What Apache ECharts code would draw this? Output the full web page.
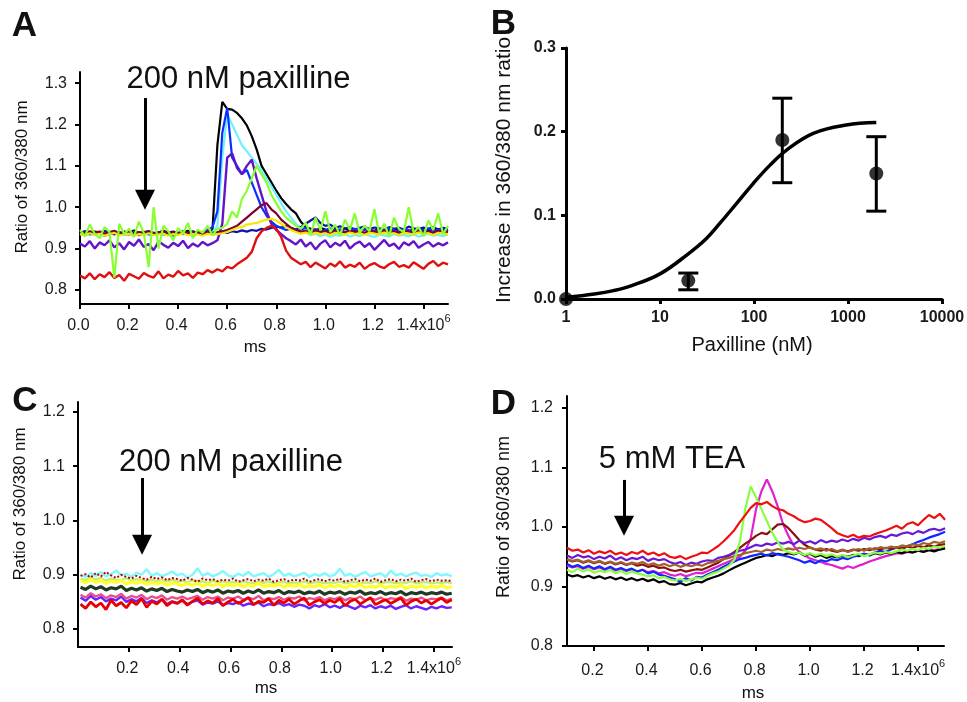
<!DOCTYPE html>
<html><head><meta charset="utf-8">
<script src="https://cdn.jsdelivr.net/npm/echarts@6/dist/echarts.min.js"></script>
<style>html,body{margin:0;padding:0;background:#fff}#c{width:967px;height:702px}</style>
</head><body><div id="c"></div><script>
// ---------- Panel A (200 nM paxilline, responsive cells) ----------
const timeA = [0,0.02,0.04,0.06,0.08,0.1,0.12,0.14,0.16,0.18,
0.2,0.22,0.24,0.26,0.28,0.3,0.32,0.34,0.36,0.38,
0.4,0.42,0.44,0.46,0.48,0.5,0.52,0.54,0.56,0.58,
0.6,0.62,0.64,0.66,0.68,0.7,0.72,0.74,0.76,0.78,
0.8,0.82,0.84,0.86,0.88,0.9,0.92,0.94,0.96,0.98,
1,1.02,1.04,1.06,1.08,1.1,1.12,1.14,1.16,1.18,
1.2,1.22,1.24,1.26,1.28,1.3,1.32,1.34,1.36,1.38,
1.4,1.42,1.44,1.46,1.48,1.5];
const aBlack = [0.938,0.942,0.936,0.941,0.939,0.943,0.937,0.940,0.935,0.941,
0.938,0.944,0.936,0.940,0.942,0.937,0.939,0.943,0.938,0.941,
0.936,0.940,0.943,0.938,0.941,0.939,0.942,0.945,1.150,1.255,
1.238,1.236,1.228,1.215,1.198,1.172,1.140,1.100,1.080,1.060,
1.040,1.022,1.008,0.995,0.985,0.965,0.952,0.948,0.944,0.950,
0.946,0.943,0.947,0.945,0.949,0.944,0.946,0.942,0.947,0.945,
0.943,0.948,0.944,0.946,0.943,0.947,0.945,0.942,0.946,0.944,
0.948,0.943,0.945,0.947,0.944,0.946];
const aCyan = [0.934,0.938,0.932,0.936,0.940,0.933,0.937,0.935,0.939,0.932,
0.936,0.938,0.934,0.937,0.933,0.939,0.935,0.936,0.932,0.938,
0.935,0.937,0.934,0.939,0.936,0.933,0.938,0.940,0.955,1.120,
1.225,1.200,1.175,1.150,1.135,1.120,1.105,1.090,1.070,1.050,
1.030,1.010,0.990,0.975,0.960,0.950,0.940,0.932,0.936,0.930,
0.934,0.928,0.933,0.931,0.935,0.929,0.933,0.930,0.936,0.931,
0.928,0.934,0.932,0.929,0.935,0.931,0.933,0.930,0.934,0.929,
0.932,0.936,0.931,0.933,0.930,0.934];
const aNavy = [0.937,0.941,0.935,0.939,0.936,0.942,0.938,0.934,0.940,0.937,
0.941,0.936,0.939,0.935,0.940,0.938,0.936,0.941,0.937,0.939,
0.935,0.940,0.937,0.942,0.938,0.936,0.940,0.937,0.939,0.941,
0.938,0.942,0.940,0.944,0.941,0.945,0.943,0.948,0.946,0.950,
0.953,0.951,0.955,0.950,0.946,0.952,0.960,0.968,0.975,0.962,
0.955,0.958,0.950,0.954,0.948,0.952,0.946,0.950,0.953,0.947,
0.951,0.949,0.945,0.952,0.948,0.950,0.946,0.953,0.949,0.947,
0.951,0.948,0.952,0.946,0.950,0.948];
const aBlue = [0.936,0.932,0.938,0.934,0.937,0.931,0.935,0.939,0.933,0.936,
0.934,0.938,0.932,0.937,0.935,0.933,0.938,0.934,0.936,0.931,
0.937,0.935,0.939,0.933,0.936,0.940,0.945,0.952,0.990,1.180,
1.240,1.120,1.100,1.080,1.090,1.060,1.030,1.000,0.980,0.965,
0.955,0.950,0.945,0.948,0.942,0.946,0.950,0.944,0.947,0.941,
0.945,0.949,0.943,0.946,0.940,0.944,0.948,0.942,0.945,0.947,
0.941,0.946,0.943,0.949,0.944,0.942,0.947,0.945,0.941,0.946,
0.944,0.948,0.943,0.945,0.947,0.942];
const aPurple = [0.912,0.905,0.918,0.900,0.915,0.908,0.920,0.903,0.913,0.898,
0.916,0.907,0.922,0.904,0.911,0.896,0.917,0.909,0.902,0.914,
0.906,0.919,0.901,0.912,0.905,0.916,0.908,0.913,0.920,0.960,
1.120,1.130,1.095,1.080,1.100,1.115,1.070,1.030,0.990,0.960,
0.945,0.935,0.925,0.918,0.910,0.922,0.905,0.915,0.898,0.912,
0.920,0.903,0.914,0.907,0.919,0.900,0.911,0.917,0.904,0.913,
0.897,0.909,0.921,0.906,0.912,0.899,0.915,0.908,0.918,0.902,
0.910,0.916,0.905,0.913,0.908,0.915];
const aMaroon = [0.940,0.937,0.942,0.938,0.941,0.936,0.940,0.943,0.937,0.939,
0.941,0.936,0.940,0.938,0.942,0.937,0.939,0.941,0.936,0.940,
0.938,0.942,0.937,0.940,0.939,0.936,0.941,0.938,0.940,0.942,
0.945,0.950,0.955,0.965,0.975,0.985,0.995,1.005,1.010,0.995,
0.985,0.970,0.960,0.950,0.945,0.941,0.943,0.939,0.944,0.940,
0.942,0.938,0.943,0.941,0.939,0.944,0.940,0.942,0.938,0.943,
0.941,0.939,0.944,0.940,0.942,0.938,0.943,0.941,0.939,0.944,
0.940,0.942,0.938,0.943,0.941,0.940];
const aYellow = [0.935,0.932,0.937,0.933,0.936,0.931,0.935,0.938,0.932,0.934,
0.936,0.931,0.935,0.933,0.937,0.932,0.934,0.936,0.931,0.935,
0.933,0.937,0.932,0.935,0.934,0.931,0.936,0.933,0.935,0.937,
0.940,0.945,0.950,0.952,0.958,0.960,0.962,0.966,0.970,0.972,
0.968,0.960,0.952,0.945,0.940,0.936,0.939,0.934,0.938,0.935,
0.937,0.933,0.938,0.936,0.934,0.939,0.935,0.937,0.933,0.938,
0.936,0.934,0.939,0.935,0.937,0.933,0.938,0.936,0.934,0.939,
0.935,0.937,0.933,0.938,0.936,0.935];
const aRed = [0.835,0.828,0.840,0.826,0.838,0.831,0.843,0.829,0.836,0.822,
0.839,0.833,0.827,0.841,0.834,0.830,0.845,0.828,0.837,0.832,
0.846,0.835,0.840,0.829,0.842,0.838,0.848,0.842,0.850,0.845,
0.856,0.852,0.862,0.870,0.878,0.892,0.925,0.942,0.950,0.955,
0.948,0.928,0.895,0.878,0.870,0.862,0.868,0.855,0.866,0.859,
0.852,0.864,0.857,0.869,0.854,0.861,0.856,0.866,0.851,0.860,
0.865,0.857,0.853,0.862,0.868,0.856,0.860,0.854,0.867,0.859,
0.851,0.863,0.870,0.858,0.866,0.862];
const aGreen = [0.945,0.930,0.958,0.936,0.925,0.952,0.940,0.830,0.960,0.935,
0.948,0.928,0.965,0.938,0.855,1.000,0.900,0.955,0.942,0.920,
0.950,0.936,0.962,0.925,0.946,0.938,0.955,0.932,0.948,0.950,
0.960,0.990,0.975,1.020,1.040,1.070,1.100,1.080,1.060,1.030,
1.010,0.990,0.975,0.965,0.955,0.948,0.962,0.935,0.975,0.944,
0.990,0.940,0.958,0.932,0.970,0.945,0.985,0.938,0.955,0.942,
0.995,0.936,0.960,0.930,0.975,0.947,0.940,1.000,0.938,0.952,
0.930,0.968,0.945,0.985,0.935,0.955];

// ---------- Panel B (dose response) ----------
const doseB = [1, 20, 200, 2000];
const meanB = [0.0, 0.022, 0.19, 0.15];
const errLowB = [0.0, 0.011, 0.139, 0.105];
const errHighB = [0.0, 0.031, 0.240, 0.194];
const fitX = [1, 2, 3.2, 5, 10, 20, 31, 43, 65, 98, 148, 222, 427, 960, 2000];
const fitY = [0.002, 0.006, 0.010, 0.016, 0.030, 0.054, 0.072, 0.090, 0.114, 0.138, 0.160, 0.178, 0.198, 0.208, 0.211];

// ---------- Panel C (200 nM paxilline, non-responsive) ----------
const timeC = [0.01,0.03,0.05,0.07,0.09,0.11,0.13,0.15,0.17,0.19,
0.21,0.23,0.25,0.27,0.29,0.31,0.33,0.35,0.37,0.39,
0.41,0.43,0.45,0.47,0.49,0.51,0.53,0.55,0.57,0.59,
0.61,0.63,0.65,0.67,0.69,0.71,0.73,0.75,0.77,0.79,
0.81,0.83,0.85,0.87,0.89,0.91,0.93,0.95,0.97,0.99,
1.01,1.03,1.05,1.07,1.09,1.11,1.13,1.15,1.17,1.19,
1.21,1.23,1.25,1.27,1.29,1.31,1.33,1.35,1.37,1.39,
1.41,1.43,1.45,1.47];
const cCyan = [0.900,0.896,0.903,0.898,0.905,0.897,0.901,0.908,0.899,0.902,
0.896,0.904,0.900,0.910,0.898,0.903,0.897,0.901,0.906,0.899,
0.902,0.895,0.900,0.912,0.898,0.903,0.897,0.901,0.907,0.899,
0.896,0.902,0.898,0.905,0.897,0.900,0.903,0.896,0.901,0.909,
0.898,0.902,0.897,0.900,0.904,0.896,0.901,0.898,0.903,0.897,
0.900,0.911,0.898,0.902,0.896,0.901,0.905,0.897,0.900,0.903,
0.896,0.908,0.899,0.902,0.897,0.901,0.904,0.898,0.900,0.896,
0.903,0.899,0.901,0.897];
const cRedDot = [0.898,0.901,0.895,0.903,0.897,0.905,0.899,0.894,0.900,0.896,
0.893,0.898,0.894,0.891,0.896,0.892,0.895,0.890,0.894,0.892,
0.889,0.894,0.891,0.887,0.893,0.890,0.892,0.888,0.891,0.889,
0.893,0.887,0.890,0.892,0.888,0.891,0.889,0.893,0.887,0.890,
0.892,0.888,0.891,0.889,0.893,0.887,0.890,0.892,0.888,0.891,
0.889,0.893,0.887,0.890,0.892,0.888,0.891,0.889,0.893,0.887,
0.890,0.892,0.888,0.891,0.889,0.893,0.887,0.890,0.892,0.888,
0.891,0.889,0.890,0.888];
const cLime = [0.893,0.890,0.895,0.891,0.894,0.889,0.893,0.891,0.890,0.894,
0.889,0.892,0.890,0.888,0.891,0.887,0.890,0.888,0.891,0.887,
0.889,0.886,0.890,0.887,0.888,0.885,0.889,0.886,0.888,0.885,
0.887,0.884,0.888,0.886,0.884,0.887,0.885,0.888,0.884,0.886,
0.887,0.884,0.886,0.885,0.888,0.884,0.886,0.887,0.884,0.886,
0.885,0.888,0.884,0.886,0.887,0.884,0.886,0.885,0.888,0.884,
0.886,0.887,0.884,0.886,0.885,0.888,0.884,0.886,0.887,0.884,
0.886,0.885,0.887,0.884];
const cYellow = [0.889,0.885,0.891,0.886,0.890,0.884,0.888,0.886,0.890,0.883,
0.887,0.884,0.888,0.882,0.886,0.883,0.887,0.881,0.885,0.883,
0.880,0.884,0.881,0.885,0.879,0.883,0.880,0.884,0.878,0.882,
0.880,0.883,0.878,0.882,0.879,0.884,0.878,0.881,0.879,0.883,
0.877,0.881,0.879,0.882,0.877,0.880,0.878,0.882,0.876,0.880,
0.878,0.881,0.876,0.880,0.878,0.882,0.876,0.879,0.877,0.881,
0.876,0.879,0.877,0.881,0.875,0.879,0.877,0.880,0.876,0.879,
0.877,0.880,0.876,0.878];
const cDark = [0.877,0.873,0.879,0.874,0.878,0.872,0.876,0.874,0.879,0.871,
0.875,0.872,0.876,0.870,0.874,0.871,0.875,0.869,0.873,0.870,
0.868,0.872,0.869,0.873,0.867,0.871,0.868,0.872,0.866,0.870,
0.868,0.871,0.866,0.870,0.867,0.872,0.866,0.869,0.867,0.871,
0.865,0.869,0.867,0.870,0.865,0.868,0.866,0.870,0.864,0.868,
0.866,0.869,0.864,0.868,0.866,0.870,0.864,0.867,0.865,0.869,
0.864,0.867,0.865,0.869,0.863,0.867,0.865,0.868,0.864,0.867,
0.865,0.868,0.864,0.866];
const cPink = [0.863,0.858,0.866,0.860,0.864,0.857,0.862,0.859,0.865,0.856,
0.861,0.858,0.863,0.855,0.860,0.857,0.862,0.854,0.859,0.856,
0.860,0.855,0.858,0.861,0.854,0.859,0.856,0.860,0.853,0.858,
0.856,0.860,0.854,0.858,0.855,0.861,0.853,0.857,0.855,0.859,
0.854,0.858,0.856,0.860,0.853,0.857,0.855,0.859,0.853,0.857,
0.855,0.859,0.853,0.857,0.855,0.860,0.853,0.856,0.854,0.858,
0.853,0.857,0.855,0.859,0.852,0.856,0.854,0.858,0.853,0.856,
0.855,0.858,0.853,0.856];
const cViolet = [0.858,0.852,0.861,0.854,0.859,0.851,0.856,0.853,0.860,0.850,
0.855,0.851,0.857,0.848,0.853,0.849,0.855,0.846,0.851,0.848,
0.852,0.846,0.850,0.853,0.845,0.849,0.847,0.851,0.844,0.848,
0.846,0.850,0.843,0.847,0.845,0.849,0.842,0.846,0.844,0.848,
0.843,0.846,0.841,0.845,0.843,0.838,0.844,0.841,0.846,0.840,
0.843,0.839,0.845,0.841,0.837,0.843,0.840,0.844,0.838,0.842,
0.839,0.843,0.837,0.841,0.844,0.838,0.842,0.839,0.836,0.841,
0.838,0.842,0.839,0.840];
const cRed = [0.846,0.838,0.850,0.841,0.848,0.836,0.853,0.843,0.849,0.839,
0.852,0.845,0.856,0.840,0.851,0.846,0.855,0.843,0.850,0.847,
0.854,0.844,0.851,0.857,0.846,0.852,0.848,0.856,0.843,0.850,
0.855,0.847,0.852,0.858,0.845,0.851,0.849,0.856,0.844,0.853,
0.848,0.855,0.846,0.852,0.857,0.844,0.850,0.854,0.847,0.853,
0.849,0.856,0.843,0.851,0.855,0.846,0.852,0.858,0.845,0.850,
0.854,0.847,0.852,0.857,0.844,0.851,0.855,0.848,0.853,0.846,
0.852,0.857,0.849,0.854];

// ---------- Panel D (5 mM TEA) ----------
const timeD = [0.1,0.12,0.14,0.16,0.18,0.2,0.22,0.24,0.26,0.28,
0.3,0.32,0.34,0.36,0.38,0.4,0.42,0.44,0.46,0.48,
0.5,0.52,0.54,0.56,0.58,0.6,0.62,0.64,0.66,0.68,
0.7,0.72,0.74,0.76,0.78,0.8,0.82,0.84,0.86,0.88,
0.9,0.92,0.94,0.96,0.98,1,1.02,1.04,1.06,1.08,
1.1,1.12,1.14,1.16,1.18,1.2,1.22,1.24,1.26,1.28,
1.3,1.32,1.34,1.36,1.38,1.4,1.42,1.44,1.46,1.48,
1.5];
const dRed = [0.965,0.960,0.962,0.957,0.961,0.955,0.959,0.956,0.960,0.954,
0.957,0.953,0.958,0.955,0.960,0.954,0.957,0.952,0.956,0.950,
0.948,0.951,0.946,0.950,0.953,0.957,0.956,0.962,0.968,0.976,
0.985,0.995,1.008,1.020,1.032,1.040,1.038,1.042,1.035,1.030,
1.028,1.022,1.018,1.012,1.008,1.010,1.014,1.012,1.005,0.998,
0.990,0.986,0.983,0.987,0.982,0.985,0.984,0.988,0.991,0.994,
0.998,1.002,0.997,1.005,1.008,1.003,1.012,1.020,1.015,1.022,
1.012];
const dPurple = [0.952,0.948,0.953,0.949,0.951,0.946,0.950,0.947,0.952,0.945,
0.949,0.944,0.948,0.946,0.950,0.943,0.947,0.944,0.946,0.941,
0.938,0.941,0.936,0.940,0.938,0.942,0.944,0.943,0.948,0.950,
0.953,0.956,0.960,0.962,0.966,0.970,0.968,0.972,0.970,0.974,
0.972,0.975,0.971,0.977,0.973,0.976,0.972,0.978,0.974,0.977,
0.975,0.979,0.976,0.980,0.977,0.982,0.979,0.983,0.985,0.982,
0.987,0.985,0.989,0.991,0.988,0.993,0.990,0.995,0.997,0.994,
0.998];
const dBlue = [0.938,0.933,0.936,0.931,0.935,0.930,0.934,0.929,0.933,0.928,
0.931,0.927,0.930,0.925,0.928,0.922,0.925,0.920,0.918,0.915,
0.912,0.908,0.914,0.910,0.916,0.915,0.920,0.924,0.928,0.933,
0.938,0.942,0.946,0.948,0.951,0.953,0.955,0.952,0.956,0.954,
0.952,0.950,0.947,0.944,0.940,0.943,0.939,0.944,0.942,0.946,
0.944,0.948,0.946,0.950,0.952,0.955,0.953,0.957,0.960,0.958,
0.962,0.965,0.963,0.968,0.971,0.975,0.978,0.982,0.985,0.988,
0.992];
const dBrown = [0.946,0.943,0.945,0.941,0.944,0.940,0.943,0.939,0.942,0.938,
0.941,0.937,0.940,0.938,0.941,0.936,0.939,0.935,0.938,0.934,
0.937,0.933,0.936,0.934,0.937,0.935,0.939,0.941,0.943,0.946,
0.948,0.951,0.953,0.956,0.958,0.960,0.958,0.962,0.960,0.963,
0.961,0.964,0.962,0.965,0.963,0.966,0.962,0.964,0.960,0.963,
0.959,0.962,0.958,0.961,0.963,0.960,0.964,0.962,0.966,0.964,
0.967,0.965,0.969,0.967,0.971,0.969,0.973,0.971,0.975,0.973,
0.976];
const dGreen = [0.928,0.924,0.930,0.925,0.929,0.923,0.927,0.924,0.928,0.922,
0.926,0.921,0.925,0.922,0.920,0.917,0.919,0.914,0.916,0.912,
0.910,0.913,0.909,0.912,0.915,0.913,0.918,0.922,0.925,0.930,
0.935,0.945,0.975,1.030,1.068,1.050,1.030,1.010,0.990,0.975,
0.962,0.958,0.955,0.957,0.953,0.956,0.952,0.955,0.951,0.954,
0.950,0.953,0.949,0.952,0.955,0.951,0.954,0.957,0.955,0.958,
0.956,0.959,0.962,0.960,0.963,0.961,0.965,0.963,0.967,0.965,
0.968];
const dBlack = [0.920,0.917,0.919,0.915,0.918,0.914,0.917,0.913,0.916,0.912,
0.915,0.911,0.914,0.910,0.913,0.909,0.912,0.907,0.909,0.904,
0.903,0.906,0.902,0.905,0.908,0.907,0.912,0.915,0.918,0.922,
0.927,0.932,0.936,0.940,0.944,0.948,0.950,0.953,0.951,0.955,
0.953,0.956,0.954,0.957,0.952,0.955,0.950,0.953,0.948,0.951,
0.949,0.952,0.950,0.953,0.951,0.955,0.952,0.956,0.954,0.957,
0.955,0.958,0.956,0.959,0.957,0.960,0.958,0.961,0.959,0.962,
0.964];
const dMagenta = [0.935,0.932,0.934,0.930,0.933,0.929,0.932,0.928,0.931,0.927,
0.930,0.926,0.929,0.925,0.928,0.924,0.926,0.922,0.924,0.920,
0.918,0.921,0.917,0.920,0.923,0.922,0.926,0.930,0.934,0.938,
0.942,0.946,0.950,0.960,0.980,1.030,1.060,1.080,1.060,1.035,
1.005,0.985,0.968,0.958,0.952,0.947,0.944,0.941,0.938,0.936,
0.933,0.930,0.934,0.931,0.935,0.938,0.942,0.945,0.948,0.951,
0.953,0.956,0.955,0.958,0.957,0.960,0.959,0.962,0.961,0.963,
0.965];
const dDarkRed = [0.945,0.942,0.944,0.940,0.943,0.939,0.942,0.938,0.941,0.937,
0.940,0.936,0.939,0.935,0.937,0.933,0.935,0.931,0.932,0.928,
0.926,0.928,0.925,0.927,0.929,0.928,0.932,0.936,0.940,0.946,
0.952,0.958,0.965,0.972,0.978,0.985,0.990,0.988,0.996,1.004,
1.005,0.998,0.988,0.978,0.970,0.965,0.962,0.960,0.963,0.960,
0.958,0.961,0.959,0.962,0.960,0.963,0.961,0.964,0.962,0.965,
0.963,0.966,0.964,0.967,0.965,0.968,0.966,0.969,0.967,0.970,
0.971];

// ---------- ticks & annotations ----------
const ticksTimeA = [0,0.2,0.4,0.6,0.8,1.0,1.2,1.4];
const ticksTime = [0.2,0.4,0.6,0.8,1.0,1.2,1.4];
const ticksRatioA = [0.8,0.9,1.0,1.1,1.2,1.3];
const ticksRatio = [0.8,0.9,1.0,1.1,1.2];
const arrowA = {x:0.265, y0:1.264, y1:1.018};
const arrowC = {x:0.252, y0:1.078, y1:0.955};
const arrowD = {x:0.311, y0:1.079, y1:1.002};

const FONT = '"Liberation Sans", Arial, Helvetica, sans-serif';
function zip(t, v){ return t.map((x,i)=>[x, v[i]]); }
function timeLabel(v){
  const r = Math.round(v*10)/10;
  if (Math.abs(r-1.4) < 1e-6) return '{n|1.4x10}{sup|6}';
  return '{n|' + r.toFixed(1) + '}{sup| }';
}
const timeRich = {
  n:{fontSize:16, fontFamily:FONT, color:'#1a1a1a', lineHeight:18, verticalAlign:'bottom'},
  sup:{fontSize:11, fontFamily:FONT, color:'#1a1a1a', lineHeight:12, verticalAlign:'bottom', padding:[0,0,10,0]}
};

function timeAxis(gi, min, max, vals, margin){
  return {type:'value', gridIndex:gi, min:min, max:max,
    axisLine:{show:true, onZero:false, lineStyle:{color:'#000', width:2}},
    axisTick:{show:true, customValues:vals, length:5, lineStyle:{color:'#000', width:2}},
    axisLabel:{customValues:vals, formatter:timeLabel, margin:margin, fontFamily:FONT, fontSize:16, color:'#1a1a1a', rich:timeRich},
    splitLine:{show:false}};
}
function ratioAxis(gi, min, max, vals, margin){
  return {type:'value', gridIndex:gi, min:min, max:max,
    axisLine:{show:true, onZero:false, lineStyle:{color:'#000', width:2}},
    axisTick:{show:true, customValues:vals, length:5, lineStyle:{color:'#000', width:2}},
    axisLabel:{customValues:vals, formatter:(v)=>v.toFixed(1), margin:margin, fontFamily:FONT, fontSize:16, color:'#1a1a1a'},
    splitLine:{show:false}};
}
function trace(gi, t, v, color, w, extra){
  const s = {type:'line', xAxisIndex:gi, yAxisIndex:gi, data:zip(t, v), showSymbol:false, symbol:'none',
    silent:true, animation:false, lineStyle:{color:color, width:w||1.8}, itemStyle:{color:color}, z:2};
  return Object.assign(s, extra||{});
}
function arrowMark(a){
  return {silent:true, animation:false, symbol:['none','triangle'], symbolSize:[20,20],
    label:{show:false}, lineStyle:{color:'#000', width:3, type:'solid'},
    emphasis:{disabled:true},
    data:[[{coord:[a.x, a.y0]}, {coord:[a.x, a.y1]}]]};
}

const series = [];
// A
series.push(trace(0, timeA, aBlack, '#000000', 2.2, {markLine: arrowMark(arrowA)}));
series.push(trace(0, timeA, aCyan, '#6ff0ff', 2.2));
series.push(trace(0, timeA, aNavy, '#0a14a8', 2.2));
series.push(trace(0, timeA, aBlue, '#0a30ff', 2.2));
series.push(trace(0, timeA, aPurple, '#6414c8', 2.4));
series.push(trace(0, timeA, aMaroon, '#800030', 2.2));
series.push(trace(0, timeA, aYellow, '#f5e800', 2.2));
series.push(trace(0, timeA, aRed, '#e01010', 2.4));
series.push(trace(0, timeA, aGreen, '#88ff30', 2.2));
// B
series.push({type:'line', xAxisIndex:1, yAxisIndex:1, data:zip(fitX, fitY), smooth:0.4, showSymbol:false, symbol:'none',
  silent:true, animation:false, lineStyle:{color:'#000', width:3.5}});
series.push({type:'custom', xAxisIndex:1, yAxisIndex:1, silent:true, animation:false,
  data: doseB.map((d,i)=>[d, errLowB[i], errHighB[i]]).filter((r)=>r[2] > r[1]),
  encode:{x:0, y:[1,2]},
  renderItem: function(params, api){
    const x = api.value(0), lo = api.value(1), hi = api.value(2);
    const pLo = api.coord([x, lo]), pHi = api.coord([x, hi]);
    const hw = 10, st = {stroke:'#000', lineWidth:3};
    return {type:'group', children:[
      {type:'line', shape:{x1:pLo[0], y1:pLo[1], x2:pHi[0], y2:pHi[1]}, style:st},
      {type:'line', shape:{x1:pLo[0]-hw, y1:pLo[1], x2:pLo[0]+hw, y2:pLo[1]}, style:st},
      {type:'line', shape:{x1:pHi[0]-hw, y1:pHi[1], x2:pHi[0]+hw, y2:pHi[1]}, style:st}]};
  }});
series.push({type:'scatter', xAxisIndex:1, yAxisIndex:1, data:zip(doseB, meanB), symbol:'circle', symbolSize:14,
  silent:true, animation:false, itemStyle:{color:'#000'}, z:5});
// C
series.push(trace(2, timeC, cCyan, '#80f8ff', 2.4, {markLine: arrowMark(arrowC)}));
series.push(trace(2, timeC, cLime, '#b8f078', 2.4));
series.push(trace(2, timeC, cYellow, '#ffff30', 3.2));
series.push(trace(2, timeC, cDark, '#1e3a22', 3.2));
series.push(trace(2, timeC, cViolet, '#6a20ff', 2.4));
series.push(trace(2, timeC, cPink, '#e8508c', 2.4));
series.push(trace(2, timeC, cRed, '#e80000', 2.8));
series.push(trace(2, timeC, cRedDot, '#c00000', 2, {lineStyle:{color:'#c00000', width:2, type:'dotted'}}));
// D
series.push(trace(3, timeD, dMagenta, '#e020d0', 2.2, {markLine: arrowMark(arrowD)}));
series.push(trace(3, timeD, dBlack, '#000000', 2.2));
series.push(trace(3, timeD, dBlue, '#1028ff', 2.2));
series.push(trace(3, timeD, dDarkRed, '#8a1010', 2.2));
series.push(trace(3, timeD, dPurple, '#6a18d8', 2.2));
series.push(trace(3, timeD, dBrown, '#a0622a', 2.2));
series.push(trace(3, timeD, dGreen, '#88ff40', 2.2));
series.push(trace(3, timeD, dRed, '#ee1010', 2.2));

function txt(text, x, y, size, opts){
  opts = opts || {};
  return {type:'text', x:x, y:y, rotation:opts.rot||0, silent:true, z:10,
    style:{text:text, x:0, y:0, textAlign:'center', textVerticalAlign:'middle', fill:'#111',
      font:(opts.bold?'bold ':'') + size + 'px ' + FONT}};
}

const option = {
  animation:false,
  backgroundColor:'#ffffff',
  grid:[
    {left:80, top:72, width:368, height:232, containLabel:false, outerBoundsMode:'none'},
    {left:566, top:48, width:376, height:251, containLabel:false, outerBoundsMode:'none'},
    {left:78, top:402, width:374, height:245, containLabel:false, outerBoundsMode:'none'},
    {left:567, top:396, width:377, height:250, containLabel:false, outerBoundsMode:'none'}
  ],
  xAxis:[
    timeAxis(0, 0, 1.5, ticksTimeA, 12),
    {type:'log', logBase:10, gridIndex:1, min:1, max:10000,
      axisLine:{show:true, onZero:false, lineStyle:{color:'#000', width:3}},
      axisTick:{show:true, length:5, lineStyle:{color:'#000', width:3}},
      minorTick:{show:false},
      axisLabel:{margin:11, formatter:(v)=>String(Math.round(v)), fontFamily:FONT, fontSize:16, fontWeight:'bold', color:'#1a1a1a'},
      splitLine:{show:false}},
    timeAxis(2, 0, 1.471, ticksTime, 12),
    timeAxis(3, 0.1, 1.496, ticksTime, 15)
  ],
  yAxis:[
    ratioAxis(0, 0.766, 1.327, ticksRatioA, 13),
    {type:'value', gridIndex:1, min:0, max:0.3, interval:0.1,
      axisLine:{show:true, onZero:false, lineStyle:{color:'#000', width:3}},
      axisTick:{show:true, length:5, lineStyle:{color:'#000', width:3}},
      axisLabel:{formatter:(v)=>v.toFixed(1), margin:10, fontFamily:FONT, fontSize:16, fontWeight:'bold', color:'#1a1a1a'},
      splitLine:{show:false}},
    ratioAxis(2, 0.767, 1.218, ticksRatio, 13),
    ratioAxis(3, 0.8, 1.22, ticksRatio, 14)
  ],
  graphic:[
    txt('A', 24.5, 26, 35, {bold:true}),
    txt('B', 503.5, 24, 35, {bold:true}),
    txt('C', 25, 401, 35, {bold:true}),
    txt('D', 503.5, 404, 35, {bold:true}),
    txt('200 nM paxilline', 238.5, 79, 31),
    txt('200 nM paxilline', 231, 462, 31),
    txt('5 mM TEA', 672, 459, 31),
    txt('Ratio of 360/380 nm', 22, 177, 17, {rot:Math.PI/2}),
    txt('Ratio of 360/380 nm', 20, 504, 17, {rot:Math.PI/2}),
    txt('Ratio of 360/380 nm', 504, 517, 18, {rot:Math.PI/2}),
    txt('Increase in 360/380 nm ratio', 504, 170, 21, {rot:Math.PI/2}),
    txt('ms', 255, 347, 17),
    txt('ms', 266, 688, 17),
    txt('ms', 753, 693, 17),
    txt('Paxilline (nM)', 752, 345, 20)
  ],
  series: series
};
const chart = echarts.init(document.getElementById('c'), null, {renderer:'canvas'});
chart.setOption(option);
</script></body></html>
